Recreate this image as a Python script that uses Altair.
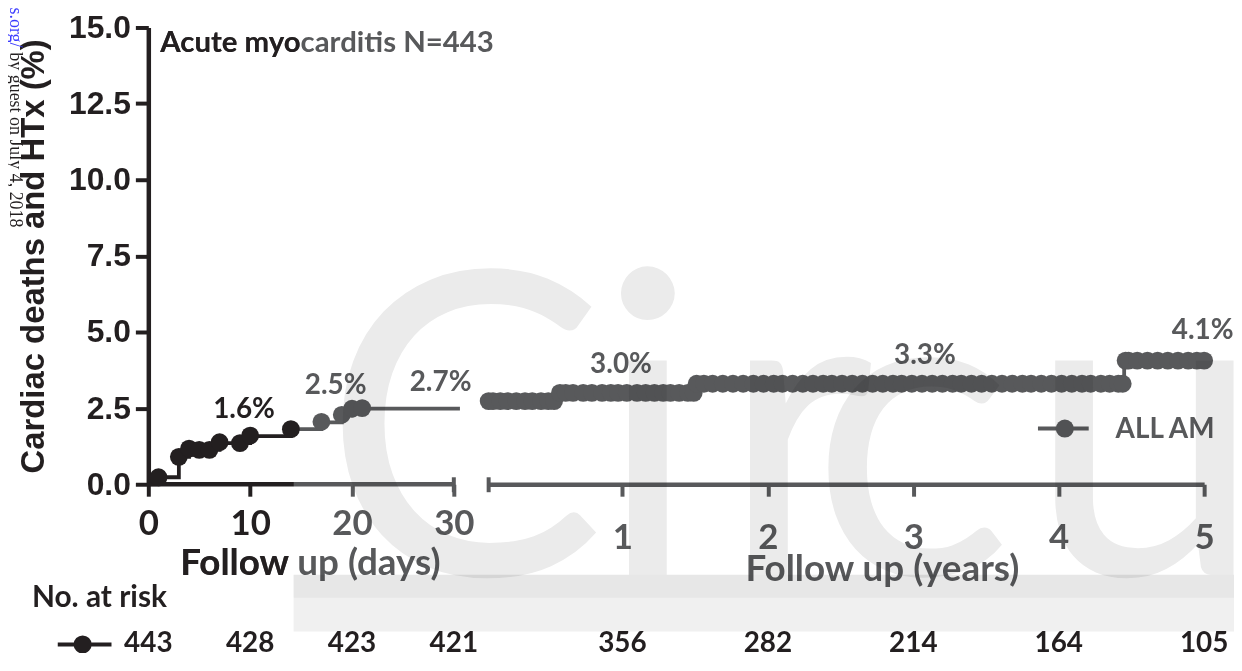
import altair as alt
import pandas as pd

BLACK = "#231f20"
GRAY = "#58595b"
WM = "#ebebeb"

# ---------------- data ----------------
# early follow-up (days): Kaplan-Meier step curve
day_line_x = [0, 1, 3, 4, 7, 10, 14, 14, 17, 19, 20, 30.6]
day_line_y = [0, 0.23, 0.90, 1.13, 1.35, 1.58, 1.81, 1.81, 2.03, 2.26, 2.48, 2.48]
day_line_phase = ["early"] * 7 + ["late"] * 5

day_evt_x = [1, 3, 4, 5, 6, 7, 9, 10, 14, 17, 19, 20, 21]
day_evt_y = [0.23, 0.90, 1.17, 1.13, 1.13, 1.38, 1.35, 1.60, 1.81, 2.05, 2.28, 2.48, 2.50]
day_evt_phase = ["early"] * 9 + ["late"] * 4

day_axis_x = [0, 14.3]
day_axis_x2 = [14.3, 30]
day_axis_phase = ["early", "late"]

days_lbl_text = ["1.6%", "2.5%", "2.7%"]
days_lbl_x = [9.4, 18.4, 28.7]
days_lbl_y = [2.19, 2.97, 3.07]
days_lbl_phase = ["early", "late", "late"]

# long-term follow-up (years)
year_line_x = [0.08, 0.565, 1.50, 4.45, 5.0]
year_line_y = [2.73, 3.00, 3.30, 4.06, 4.06]

cens_27 = [0.08, 0.11, 0.16, 0.21, 0.27, 0.33, 0.38, 0.44, 0.49, 0.53]
cens_30 = [0.57, 0.61, 0.66, 0.73, 0.79, 0.86, 0.92, 0.97, 1.03, 1.10, 1.16, 1.22,
           1.28, 1.33, 1.39, 1.45, 1.49]
cens_33 = [1.51, 1.56, 1.62, 1.69, 1.76, 1.83, 1.90, 1.97, 2.04, 2.10, 2.17, 2.24, 2.31,
           2.38, 2.44, 2.51, 2.58, 2.65, 2.72, 2.79, 2.86, 2.92, 2.99, 3.06, 3.13,
           3.20, 3.27, 3.33, 3.40, 3.47, 3.54, 3.61, 3.68, 3.75, 3.81, 3.88, 3.95,
           4.02, 4.09, 4.16, 4.22, 4.29, 4.35, 4.41, 4.44]
cens_41 = [4.46, 4.48, 4.54, 4.61, 4.68, 4.75, 4.82, 4.89, 4.95, 5.0]
level_27, level_30, level_33, level_41 = 2.73, 3.00, 3.30, 4.06

years_lbl_text = ["3.0%", "3.3%", "4.1%"]
years_lbl_x = [0.99, 3.08, 4.99]
years_lbl_y = [3.66, 3.95, 4.77]

# numbers at risk
risk_days_x = [0, 10, 20, 30]
risk_days_n = [443, 428, 423, 421]
risk_years_x = [1, 2, 3, 4, 5]
risk_years_n = [356, 282, 214, 164, 105]

y_ticks = [0, 2.5, 5, 7.5, 10, 12.5, 15]
day_ticks = [0, 10, 20, 30]
year_ticks = [1, 2, 3, 4, 5]

# ---------------- layout ----------------
H = 459
W_DAYS = 307
W_YEARS = 719
PT = 320

y_scale = alt.Scale(domain=[0, 15], nice=False, zero=False)
days_scale = alt.Scale(domain=[0, 30], nice=False, zero=False)
years_scale = alt.Scale(domain=[0.08, 5], nice=False, zero=False)
phase_color = alt.Color("phase:N", scale=alt.Scale(domain=["early", "late"], range=[BLACK, GRAY]),
                        legend=None)

y_axis = alt.Axis(values=y_ticks, format=".1f", title="Cardiac deaths and HTx (%)",
                  labelFont="Liberation Sans", labelFontSize=32, labelFontWeight="bold",
                  labelColor=BLACK, labelPadding=5, labelFlush=False,
                  tickSize=13, tickWidth=4, tickColor=BLACK,
                  domainColor=BLACK, domainWidth=4.5, grid=False,
                  titleFont="Liberation Sans", titleFontSize=33, titleFontWeight="bold",
                  titleColor=BLACK, titlePadding=18)

days_axis = alt.Axis(values=day_ticks, format="d", title=None, domain=False, grid=False,
                     labelFont="Lato", labelFontSize=35, labelFontWeight="bold",
                     labelColor={"condition": {"test": "datum.value <= 14", "value": BLACK}, "value": GRAY},
                     tickColor={"condition": {"test": "datum.value <= 14", "value": BLACK}, "value": GRAY},
                     labelPadding=11, labelFlush=False, tickSize=12, tickWidth=4)

years_axis = alt.Axis(values=year_ticks, format="d", title=None, grid=False,
                      labelFont="Lato", labelFontSize=35, labelFontWeight="bold",
                      labelColor=GRAY, tickColor=GRAY, domainColor=GRAY, domainWidth=4.5,
                      labelPadding=25, labelFlush=False, tickSize=12, tickWidth=4)


def Xd(f="x"):
    return alt.X(f"{f}:Q", scale=days_scale, axis=days_axis)


def Yd(f="y"):
    return alt.Y(f"{f}:Q", scale=y_scale, axis=y_axis)


def Xr(f="x"):
    return alt.X(f"{f}:Q", scale=years_scale, axis=years_axis)


def Yr(f="y"):
    return alt.Y(f"{f}:Q", scale=y_scale, axis=None)


def note(text, x, y, size, color, font="Lato", weight="bold", align="left", angle=0, blend=None):
    kw = dict(font=font, fontSize=size, fontWeight=weight, color=color, align=align,
              baseline="alphabetic")
    if angle:
        kw["angle"] = angle
    if blend:
        kw["blend"] = blend
    return alt.Chart(pd.DataFrame({"t": [text]})).mark_text(**kw).encode(
        x=alt.value(x), y=alt.value(y), text="t:N")


def seg(x1, x2, y, color, width):
    return alt.Chart(pd.DataFrame({"a": [0]})).mark_rule(color=color, strokeWidth=width).encode(
        x=alt.value(x1), x2=alt.value(x2), y=alt.value(y))


def dot(x, y, color, size=290):
    return alt.Chart(pd.DataFrame({"a": [0]})).mark_circle(color=color, size=size, opacity=1).encode(
        x=alt.value(x), y=alt.value(y))


# ---------------- days panel ----------------
d_line = pd.DataFrame({"x": day_line_x, "y": day_line_y, "phase": day_line_phase})
d_evt = pd.DataFrame({"x": day_evt_x, "y": day_evt_y, "phase": day_evt_phase})
d_axis = pd.DataFrame({"x": day_axis_x, "x2": day_axis_x2, "y": [0, 0], "phase": day_axis_phase})
d_lbl = pd.DataFrame({"x": days_lbl_x, "y": days_lbl_y, "t": days_lbl_text, "phase": days_lbl_phase})
d_risk = pd.DataFrame({"x": risk_days_x, "n": risk_days_n})
d_cap = pd.DataFrame({"x": [30]})

days_layers = [
    alt.Chart(d_axis).mark_rule(strokeWidth=4.5).encode(x=Xd(), x2="x2:Q", y=Yd(), color=phase_color),
    alt.Chart(d_cap).mark_rule(color=GRAY, strokeWidth=4).encode(
        x=Xd(), y=alt.value(H - 7), y2=alt.value(H + 8)),
    alt.Chart(d_line).mark_line(interpolate="step-after", strokeWidth=3.8).encode(
        x=Xd(), y=Yd(), color=phase_color, detail="phase:N"),
    alt.Chart(d_evt).mark_circle(size=PT, opacity=1).encode(x=Xd(), y=Yd(), color=phase_color),
    alt.Chart(d_lbl).mark_text(font="Lato", fontSize=28, fontWeight="bold", baseline="alphabetic").encode(
        x=Xd(), y=Yd(), text="t:N", color=phase_color),
    alt.Chart(d_risk).mark_text(font="Lato", fontSize=28, fontWeight="bold", baseline="alphabetic",
                                color=BLACK).encode(x=Xd(), y=alt.value(628), text="n:Q"),
    # texts
    note("Acute myocarditis N=443", 12, 25, 29.5, GRAY),
    note("Acute myo", 12, 25, 29.5, BLACK),
    note("Follow up (days)", 32, 550, 37, GRAY),
    note("Follow", 32, 550, 37, BLACK),
    note("No. at risk", -117, 582, 30, BLACK),
    seg(-91, -37, 620, BLACK, 4),
    dot(-66, 620, BLACK, 330),
    note("ls.org/", -139, -25, 18, "#3a3aff", font="Liberation Serif", weight="normal", angle=90),
    note("by guest on July 4, 2018", -139, 25, 18, BLACK, font="Liberation Serif",
         weight="normal", angle=90),
]
days_panel = alt.layer(*days_layers).properties(width=W_DAYS, height=H)

# ---------------- years panel ----------------
y_line = pd.DataFrame({"x": year_line_x, "y": year_line_y})
cx = cens_27 + cens_30 + cens_33 + cens_41
cy = ([level_27] * len(cens_27) + [level_30] * len(cens_30) + [level_33] * len(cens_33)
      + [level_41] * len(cens_41))
y_cens = pd.DataFrame({"x": cx, "y": cy})
y_lbl = pd.DataFrame({"x": years_lbl_x, "y": years_lbl_y, "t": years_lbl_text})
y_risk = pd.DataFrame({"x": risk_years_x, "n": risk_years_n})
y_cap = pd.DataFrame({"x": [0.08]})

years_layers = [
    alt.Chart(y_cap).mark_rule(color=GRAY, strokeWidth=4).encode(
        x=Xr(), y=alt.value(H - 7), y2=alt.value(H + 8)),
    alt.Chart(y_line).mark_line(interpolate="step-after", strokeWidth=3.8, color=GRAY).encode(
        x=Xr(), y=Yr()),
    alt.Chart(y_cens).mark_circle(size=PT, opacity=1, color=GRAY).encode(x=Xr(), y=Yr()),
    alt.Chart(y_lbl).mark_text(font="Lato", fontSize=28, fontWeight="bold", baseline="alphabetic",
                               color=GRAY).encode(x=Xr(), y=Yr(), text="t:N"),
    alt.Chart(y_risk).mark_text(font="Lato", fontSize=28, fontWeight="bold", baseline="alphabetic",
                                color=BLACK).encode(x=Xr(), y=alt.value(628), text="n:Q"),
    note("Follow up (years)", 258, 556, 37, GRAY),
    seg(552, 603, 403, GRAY, 4),
    dot(579, 403, GRAY, 330),
    note("ALL AM", 630, 413, 28, GRAY),
    # watermark
    alt.Chart(pd.DataFrame({"a": [0]})).mark_rect(color="#e7e7e7", blend="multiply").encode(
        x=alt.value(-196), x2=alt.value(752), y=alt.value(550), y2=alt.value(573)),
    alt.Chart(pd.DataFrame({"a": [0]})).mark_rect(color="#f0f0f0", blend="multiply").encode(
        x=alt.value(-196), x2=alt.value(752), y=alt.value(573), y2=alt.value(607)),
    note("C", -25, 550, 425, WM, weight="normal", align="center", blend="multiply"),
    note("i", 160, 550, 425, WM, weight="normal", align="center", blend="multiply"),
    note("r", 310, 550, 425, WM, weight="normal", align="center", blend="multiply"),
    note("c", 425, 550, 425, WM, weight="normal", align="center", blend="multiply"),
    note("u", 660, 550, 425, WM, weight="normal", align="center", blend="multiply"),
]
years_panel = alt.layer(*years_layers).properties(width=W_YEARS, height=H)

chart = alt.hconcat(days_panel, years_panel, spacing=35, bounds="flush").properties(
    padding={"left": -3, "top": -8, "right": -30, "bottom": -9}
).configure_view(stroke="transparent")

chart.save("out.html", embed_options={"renderer": "svg", "actions": False})
